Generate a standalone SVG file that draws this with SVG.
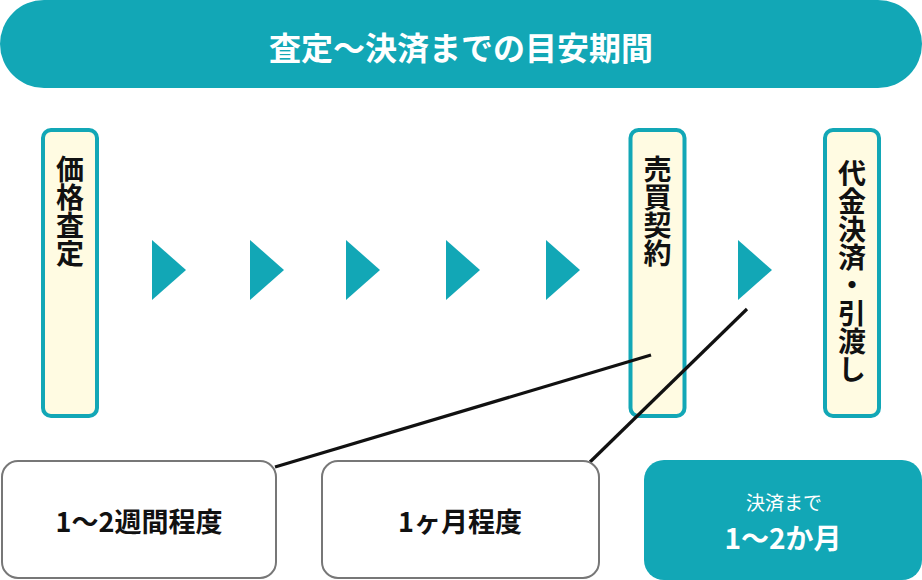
<svg xmlns="http://www.w3.org/2000/svg" width="922" height="580" viewBox="0 0 922 580">
  <style>
    text { font-family: "Noto Sans CJK JP", "Noto Sans", sans-serif; }
    .teal { fill: #12A7B6; }
    .step { fill: #FFFBE2; stroke: #12A7B6; stroke-width: 4; }
    .vt { writing-mode: vertical-rl; font-size: 28px; font-weight: 700; fill: #111; }
    .dur { fill: #fff; stroke: #777; stroke-width: 2; }
    .durt { font-size: 27px; font-weight: 700; fill: #111; text-anchor: middle; }
    .conn { stroke: #111; stroke-width: 3.2; fill: none; }
  </style>
  <defs>
    <polygon id="tri" points="0,0 34,30 0,60" class="teal"/>
  </defs>

  <g id="title">
    <rect x="0" y="0" width="922" height="88" rx="44" class="teal"/>
    <text x="461" y="60" font-size="32" font-weight="700" fill="#fff" text-anchor="middle">査定〜決済までの目安期間</text>
  </g>

  <g id="step-satei">
    <rect x="43" y="130" width="54" height="286" rx="8" class="step"/>
    <text x="70" y="155" class="vt">価格査定</text>
  </g>
  <g id="step-keiyaku">
    <rect x="630.5" y="130" width="54" height="286" rx="8" class="step"/>
    <text x="657.5" y="155" class="vt">売買契約</text>
  </g>
  <g id="step-kessai">
    <rect x="825" y="130" width="54" height="286" rx="8" class="step"/>
    <text x="852" y="159" class="vt">代金決済・引渡し</text>
  </g>

  <g id="arrows">
    <use href="#tri" x="152" y="240"/>
    <use href="#tri" x="250" y="240"/>
    <use href="#tri" x="346" y="240"/>
    <use href="#tri" x="446" y="240"/>
    <use href="#tri" x="546" y="240"/>
    <use href="#tri" x="738" y="240"/>
  </g>

  <g id="connectors">
    <line x1="651" y1="355" x2="275" y2="467" class="conn"/>
    <line x1="747" y1="309" x2="590" y2="462" class="conn"/>
  </g>

  <g id="dur-1">
    <rect x="2" y="461" width="274" height="117" rx="16" class="dur"/>
    <text x="139" y="532" class="durt">1〜2週間程度</text>
  </g>
  <g id="dur-2">
    <rect x="322" y="461" width="277" height="117" rx="16" class="dur"/>
    <text x="460" y="532" class="durt">1ヶ月程度</text>
  </g>
  <g id="dur-total">
    <rect x="644" y="460" width="278" height="120" rx="20" class="teal"/>
    <text x="784" y="510" font-size="19" fill="#fff" text-anchor="middle">決済まで</text>
    <text x="783" y="549" font-size="28" font-weight="700" fill="#fff" text-anchor="middle">1〜2か月</text>
  </g>
</svg>
